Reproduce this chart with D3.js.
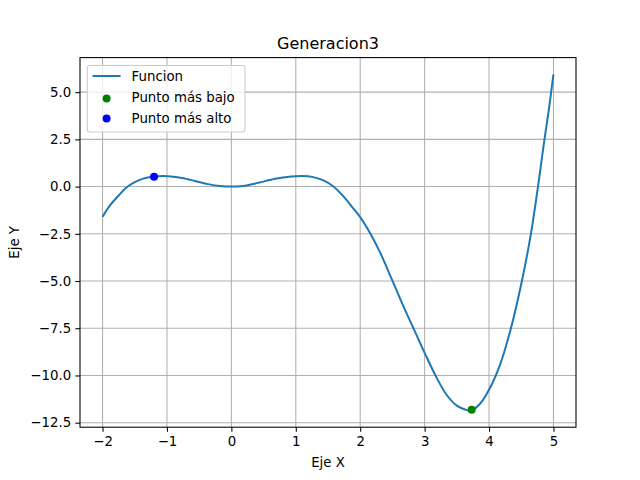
<!DOCTYPE html>
<html>
<head>
<meta charset="utf-8">
<script src="https://cdn.jsdelivr.net/npm/d3@7"></script>
<style>
  body { margin: 0; background: #fff; }
  text { font-family: "DejaVu Sans", sans-serif; }
</style>
</head>
<body>
<div id="app"></div>
<script>
// values
const xs = [-2.0, -1.89, -1.73, -1.63, -1.52, -1.37, -1.2, -1.05, -0.9, -0.77, -0.57, -0.36,
            -0.18, 0.0, 0.18, 0.42, 0.68, 0.93, 1.1, 1.27, 1.43, 1.58, 1.74, 1.89, 2.0,
            2.15, 2.31, 2.5, 2.67, 2.84, 3.02, 3.19, 3.34, 3.5, 3.65, 3.73, 3.86, 4.0,
            4.17, 4.34, 4.51, 4.65, 4.76, 4.85, 4.93, 5.0];
const ys = [-1.6, -1.02, -0.4, -0.05, 0.2, 0.42, 0.53, 0.56, 0.52, 0.45, 0.3, 0.13,
            0.03, 0.0, 0.03, 0.2, 0.41, 0.53, 0.56, 0.5, 0.33, 0.02, -0.52, -1.14, -1.62,
            -2.45, -3.5, -4.98, -6.33, -7.6, -8.95, -10.14, -11.02, -11.6, -11.83, -11.85, -11.5, -10.76,
            -9.44, -7.5, -5.0, -2.5, 0.0, 2.25, 4.12, 5.94];

const lowPoint = [3.73, -11.82];
const highPoint = [-1.2, 0.52];

const xTicks = [-2, -1, 0, 1, 2, 3, 4, 5];
const yTicks = [5.0, 2.5, 0.0, -2.5, -5.0, -7.5, -10.0, -12.5];

const labels = ["Funcion", "Punto más bajo", "Punto más alto"];

const w = 640;
const h = 480;
const mLeft = 80, mRight = 576, mTop = 57.6, mBottom = 427.2;

const svg = d3.select("#app")
  .append("svg")
  .attr("width", w)
  .attr("height", h);

// matplotlib style 5% margins
const xExt = d3.extent(xs);
const yExt = d3.extent(ys.concat([lowPoint[1], highPoint[1]]));
const xPad = (xExt[1] - xExt[0]) * 0.05;
const yPad = (yExt[1] - yExt[0]) * 0.05;

const x = d3.scaleLinear().domain([xExt[0] - xPad, xExt[1] + xPad]).range([mLeft, mRight]);
const y = d3.scaleLinear().domain([yExt[0] - yPad, yExt[1] + yPad]).range([mBottom, mTop]);

const minus = s => s.replace("-", "\u2212");

// grid
svg.append("g")
  .selectAll("line")
  .data(xTicks)
  .enter()
  .append("line")
  .attr("x1", d => x(d)).attr("x2", d => x(d))
  .attr("y1", mTop).attr("y2", mBottom)
  .attr("stroke", "#b0b0b0")
  .attr("stroke-width", 1.07);

svg.append("g")
  .selectAll("line")
  .data(yTicks)
  .enter()
  .append("line")
  .attr("x1", mLeft).attr("x2", mRight)
  .attr("y1", d => y(d)).attr("y2", d => y(d))
  .attr("stroke", "#b0b0b0")
  .attr("stroke-width", 1.07);

// axes
const xAxis = svg.append("g")
  .attr("transform", "translate(0," + mBottom + ")")
  .call(d3.axisBottom(x).tickValues(xTicks).tickSize(4.67).tickPadding(4.2)
    .tickFormat(d => minus(d3.format("d")(d))));

const yAxis = svg.append("g")
  .attr("transform", "translate(" + mLeft + ",0)")
  .call(d3.axisLeft(y).tickValues(yTicks).tickSize(4.67).tickPadding(4.2)
    .tickFormat(d => minus(d3.format(".1f")(d))));

[xAxis, yAxis].forEach(a => {
  a.select(".domain").remove();
  a.selectAll(".tick line").attr("stroke", "#000").attr("stroke-width", 1.07);
  a.selectAll(".tick text")
    .attr("font-family", "DejaVu Sans")
    .attr("font-size", "13.33px")
    .attr("fill", "#000");
});

// line
const line = d3.line()
  .x(d => x(d[0]))
  .y(d => y(d[1]))
  .curve(d3.curveCatmullRom.alpha(0.5));

svg.append("path")
  .datum(xs.map((d, i) => [d, ys[i]]))
  .attr("d", line)
  .attr("fill", "none")
  .attr("stroke", "#1f77b4")
  .attr("stroke-width", 2);

svg.append("circle")
  .attr("cx", x(lowPoint[0])).attr("cy", y(lowPoint[1]))
  .attr("r", 4).attr("fill", "#008000");

svg.append("circle")
  .attr("cx", x(highPoint[0])).attr("cy", y(highPoint[1]))
  .attr("r", 4).attr("fill", "#0000ff");

// frame
svg.append("rect")
  .attr("x", mLeft).attr("y", mTop)
  .attr("width", mRight - mLeft).attr("height", mBottom - mTop)
  .attr("fill", "none")
  .attr("stroke", "#000")
  .attr("stroke-width", 1.07);

// titles
svg.append("text")
  .attr("x", (mLeft + mRight) / 2).attr("y", 49)
  .attr("text-anchor", "middle")
  .attr("font-size", "16px")
  .text("Generacion3");

svg.append("text")
  .attr("x", (mLeft + mRight) / 2).attr("y", 467)
  .attr("text-anchor", "middle")
  .attr("font-size", "13.33px")
  .text("Eje X");

svg.append("text")
  .attr("transform", "translate(19," + (mTop + mBottom) / 2 + ") rotate(-90)")
  .attr("text-anchor", "middle")
  .attr("font-size", "13.33px")
  .text("Eje Y");

// legend
const lg = svg.append("g");
lg.append("rect")
  .attr("x", 87.3).attr("y", 65.5)
  .attr("width", 157.7).attr("height", 66.5)
  .attr("rx", 2.8)
  .attr("fill", "#fff").attr("fill-opacity", 0.8)
  .attr("stroke", "#cccccc").attr("stroke-width", 1.07);

lg.append("line")
  .attr("x1", 92.6).attr("x2", 120.6)
  .attr("y1", 76).attr("y2", 76)
  .attr("stroke", "#1f77b4").attr("stroke-width", 2);

lg.append("circle").attr("cx", 106.6).attr("cy", 98.5).attr("r", 4).attr("fill", "#008000");
lg.append("circle").attr("cx", 106.6).attr("cy", 118.5).attr("r", 4).attr("fill", "#0000ff");

lg.selectAll("text.lab")
  .data(labels)
  .enter()
  .append("text")
  .attr("class", "lab")
  .attr("x", 131.6)
  .attr("y", (d, i) => 80.8 + i * 20.9)
  .attr("font-size", "13.33px")
  .text(d => d);
</script>
</body>
</html>
